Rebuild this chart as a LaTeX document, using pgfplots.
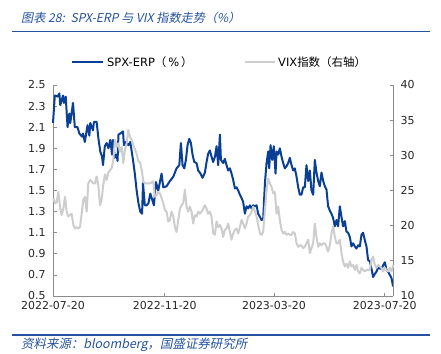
\documentclass[border=0pt]{standalone}
\usepackage{pgfplots}
\usepackage{pgfplotstable}
\pgfplotsset{compat=1.18}
\usepackage{fontspec}
\setmainfont{DejaVu Sans}
\newfontfamily\cjk{Noto Sans CJK SC}
\newfontfamily\cjkit{Noto Sans CJK SC}[FakeSlant=0.2]
\definecolor{erpblue}{HTML}{0A3F96}
\definecolor{vixgray}{HTML}{CDCDCD}
\definecolor{titleblue}{HTML}{2452A0}
\definecolor{axisgray}{HTML}{8C8C8C}

% day index since 2022-07-20
\pgfplotstableread{
d v
0 2.14
2 2.40
5 2.39
7 2.42
8 2.31
11 2.40
12 2.33
14 2.39
16 2.10
18 2.23
19 2.14
22 2.33
24 2.10
27 2.10
29 2.04
32 2.01
33 2.04
35 1.96
38 2.12
40 2.02
41 2.14
44 2.07
45 2.15
48 2.15
50 1.99
52 1.87
54 1.82
55 1.74
57 1.92
59 1.95
61 1.90
63 1.98
65 1.84
66 1.98
68 1.81
70 1.84
71 1.78
72 2.03
74 2.04
77 2.06
78 1.93
80 1.96
83 1.93
85 1.96
88 1.79
90 1.66
92 1.50
94 1.38
96 1.30
98 1.28
99 1.57
101 1.36
103 1.36
105 1.38
107 1.47
108.5 1.43
111 1.36
113.2 1.58
115.8 1.50
119.4 1.66
121.3 1.53
124.9 1.54
128.6 1.59
132.3 1.63
134.1 1.67
135.9 1.71
138.9 1.74
140.7 1.95
142.5 1.74
144.4 1.71
146.2 1.79
148 1.93
149.9 1.99
151.7 1.95
153.5 1.84
155.4 1.77
157.9 1.76
159.7 1.69
162.3 1.66
164.5 1.62
167.1 1.67
168.9 1.77
170.7 1.85
172.6 1.88
174.4 1.82
176.2 1.77
178.1 1.82
179.9 1.92
181.7 1.74
183.6 2.03
184.7 1.79
187.2 1.76
189 1.80
190.9 1.74
192.7 1.69
194.6 1.71
196.4 1.66
198.2 1.60
200.1 1.52
201.9 1.53
203.7 1.50
205.6 1.46
207.4 1.43
209.2 1.39
211.1 1.28
212.9 1.35
214.7 1.33
216.6 1.36
218.4 1.33
220.2 1.36
222.1 1.35
223.9 1.36
225.7 1.28
227.6 1.25
229.4 1.22
231.2 1.23
233.1 1.57
234.9 1.76
236.7 1.87
237.8 1.71
239.3 1.93
241.1 1.79
242.9 1.92
244.8 1.66
245.9 1.87
247.7 1.84
249.5 1.90
251.4 1.82
253.2 1.76
255 1.71
256.9 1.73
258.7 1.76
260.5 1.81
262.4 1.74
264.2 1.69
266 1.71
267.9 1.63
269.7 1.53
271.5 1.46
273.3 1.46
275.2 1.53
277 1.53
278.8 1.74
280.7 1.59
282.5 1.69
284.3 1.50
286.2 1.46
288 1.79
289.8 1.67
291.7 1.59
293.5 1.54
295.3 1.67
297.2 1.59
299 1.54
300.8 1.51
302.6 1.35
304.5 1.31
306.3 1.28
308.1 1.24
310 1.16
311.8 1.22
313.6 1.16
315.5 1.35
317.3 1.25
319.1 1.16
321 1.21
322.8 1.11
324.6 1.10
326.5 1.06
328.3 0.97
330.1 1.00
332 0.97
333.8 0.95
335.6 0.98
337.5 0.97
339.3 1.08
341.1 1.10
343 1.03
344.8 0.97
346.6 0.84
348.5 0.83
350.3 0.76
352.1 0.68
354 0.71
355.8 0.73
357.6 0.77
359.5 0.76
361.3 0.76
363.1 0.79
365 0.82
366.8 0.75
368.6 0.73
370.5 0.70
372.3 0.67
374.1 0.59
}\erptable

\pgfplotstableread{
d v
0.4 23.9
2.2 23.2
4.0 23.3
5.9 24.8
7.7 22.7
9.5 21.5
11.4 22.4
13.2 24.1
15.0 22.0
16.9 21.3
18.7 21.5
20.5 21.7
22.4 20.1
24.2 19.6
26.0 19.8
27.8 19.6
29.7 19.8
31.5 21.7
33.3 23.7
35.2 24.1
37.0 22.0
38.8 26.0
40.7 26.5
42.5 26.3
44.3 26.0
46.2 26.0
48.0 27.0
49.8 25.8
51.7 22.9
53.5 23.7
55.3 25.8
57.2 27.3
59.0 26.5
60.8 27.5
62.7 27.9
64.5 28.2
66.3 29.3
68.1 32.2
70.0 31.2
71.8 31.7
73.6 30.5
75.5 31.2
77.3 28.9
79.1 30.8
81.0 31.7
82.8 33.6
84.6 32.6
86.5 32.2
88.3 31.4
90.1 30.9
92.0 30.2
93.8 29.2
95.6 29.0
97.5 28.0
99.3 26.3
101.1 26.0
103.0 26.0
106.6 26.0
110.3 26.3
112.1 24.1
113.9 24.3
115.8 24.8
117.6 24.6
119.4 23.9
121.3 23.2
123.1 22.2
124.9 22.0
126.8 20.6
128.6 20.8
130.4 22.0
132.3 21.3
134.1 19.8
135.9 19.1
137.8 20.8
139.6 22.4
141.4 22.9
143.2 23.2
145.1 25.1
146.9 22.7
148.7 22.0
150.6 22.7
152.4 22.0
154.2 20.3
156.1 21.5
157.9 21.3
159.7 22.0
161.6 21.7
163.4 22.0
165.2 22.4
167.1 22.9
168.9 22.4
170.7 21.7
172.6 22.0
174.4 21.3
176.2 18.9
178.1 18.7
179.9 20.6
181.7 19.8
183.6 20.1
185.4 19.6
187.2 18.4
189.0 19.4
190.9 19.6
192.7 20.3
194.6 19.1
196.4 18.0
198.2 18.9
200.1 19.4
201.9 19.6
203.7 18.9
205.6 19.8
207.4 20.8
209.2 20.3
211.1 19.6
212.9 20.3
214.7 21.3
216.6 21.5
218.4 22.0
220.2 22.7
222.1 22.0
223.9 21.3
225.7 20.1
227.6 18.9
229.4 18.7
231.2 19.1
233.1 22.2
234.9 25.1
236.7 26.7
238.6 26.0
240.4 25.5
242.2 24.6
244.1 24.8
245.9 21.7
247.7 22.7
249.5 20.8
251.4 19.4
253.2 18.9
255.0 19.1
256.9 18.7
258.7 18.9
260.5 18.7
262.4 18.7
264.2 19.1
266.0 18.9
267.9 17.5
269.7 17.0
271.5 17.2
273.3 17.2
275.2 16.8
277.0 17.0
278.8 17.5
280.7 18.0
282.5 16.1
284.3 16.8
286.2 17.5
288.0 20.3
289.8 18.4
291.7 17.0
293.5 17.5
295.3 17.2
297.2 17.5
299.0 17.5
300.8 17.0
302.6 16.3
304.5 17.2
306.3 18.9
308.1 19.9
310.0 18.4
311.8 17.5
313.6 17.5
315.5 18.0
317.3 16.1
319.1 14.9
321.0 14.2
322.8 14.6
324.6 14.0
326.5 14.9
328.3 14.2
330.1 14.4
332.0 13.7
333.8 14.4
335.6 13.5
337.5 13.2
339.3 14.0
341.1 13.7
343.0 13.5
344.8 13.7
346.6 13.7
348.5 13.7
350.3 15.1
352.1 15.6
354.0 14.4
355.8 14.0
357.6 14.4
359.5 14.2
361.3 14.0
363.1 13.5
365.0 14.0
366.8 13.7
368.6 13.5
370.5 14.0
372.3 13.5
374.1 14.4
}\vixtable

\pgfplotsset{
  common/.style={
    scale only axis, width=340bp, height=211bp,
    xmin=0, xmax=374,
    axis line style={axisgray, line width=0.8bp},
    tick style={axisgray, line width=0.8bp},
    tick align=inside, major tick length=3.5bp,
    /pgf/number format/assume math mode=true,
    ticklabel style={font=\fontsize{11}{13}\selectfont, text=black!85},
    clip=false,
  }
}

\begin{document}
\begin{tikzpicture}[x=1bp,y=1bp]
% frame of the whole picture (axis box origin at image pixel (53,296))
\path (-53,-57) rectangle (388,296);
% title
\node[anchor=west, text=titleblue, inner sep=0pt] at (-32,278) {\cjkit\fontsize{12.2}{14}\selectfont 图表 28:\ \ SPX-ERP 与 VIX 指数走势（\%）};
\draw[titleblue, line width=1.3bp] (-41,264.3) -- (377,264.3);
% legend
\draw[erpblue, line width=2bp] (19,234.3) -- (50,234.3);
\node[anchor=west, inner sep=0pt] at (54,234.3) {\fontsize{11.5}{13}\selectfont SPX-ERP{\cjk （}\,\%\,{\cjk ）}};
\draw[vixgray, line width=2bp] (192,234.3) -- (222,234.3);
\node[anchor=west, inner sep=0pt] at (225,234.3) {\fontsize{11.5}{13}\selectfont VIX{\cjk 指数（右轴）}};
% bottom
\draw[titleblue, line width=1.3bp] (-41,-39) -- (377,-39);
\node[anchor=west, text=titleblue, inner sep=0pt] at (-32,-49) {\cjkit\fontsize{12.5}{14}\selectfont 资料来源：bloomberg，国盛证券研究所};

\begin{axis}[common,
  ymin=0.5, ymax=2.5,
  axis x line*=bottom, axis y line*=left,
  xtick={0,123,243,365},
  xticklabels={2022-07-20,2022-11-20,2023-03-20,2023-07-20},
  ytick={0.5,0.7,0.9,1.1,1.3,1.5,1.7,1.9,2.1,2.3,2.5},
  yticklabel style={/pgf/number format/fixed,/pgf/number format/precision=1,/pgf/number format/fixed zerofill, xshift=-4bp},
  xticklabel style={yshift=-2bp},
]
\addplot[erpblue, line width=2bp, line join=round] table[x=d,y=v] {\erptable};
\end{axis}
\begin{axis}[common,
  ymin=10, ymax=40,
  axis x line=none, axis y line*=right,
  ytick={10,15,20,25,30,35,40},
  yticklabel style={xshift=4bp},
]
\addplot[vixgray, line width=2bp, line join=round] table[x=d,y=v] {\vixtable};
\end{axis}
\end{tikzpicture}
\end{document}
